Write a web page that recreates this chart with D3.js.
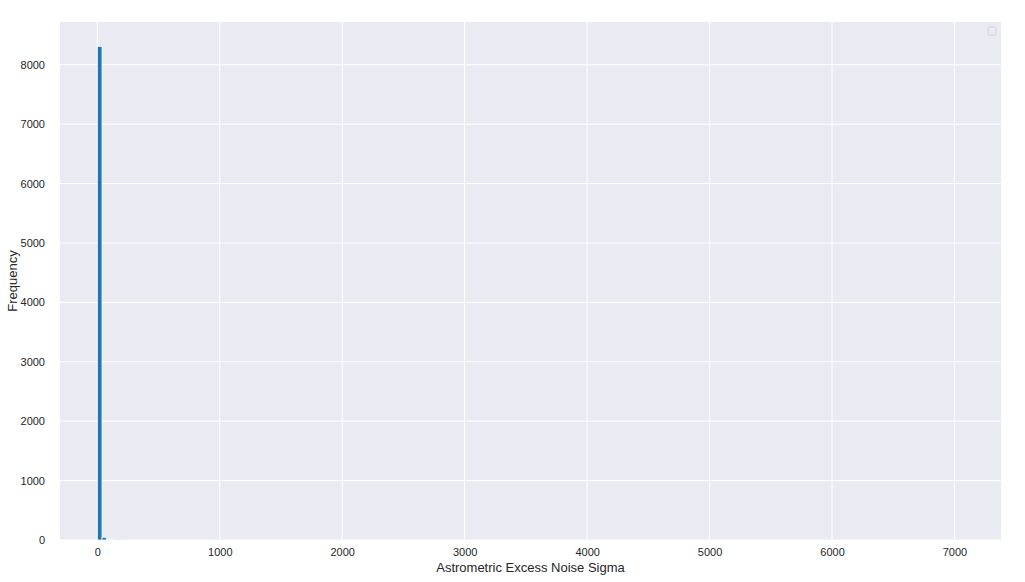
<!DOCTYPE html>
<html>
<head>
<meta charset="utf-8">
<script src="https://cdn.jsdelivr.net/npm/d3@7"></script>
<style>
  body { margin: 0; background: #fff; }
  svg { display: block; font-family: "Liberation Sans", Arial, sans-serif; }
</style>
</head>
<body>
<svg id="chart" width="1025" height="582"></svg>
<script>
// Histogram bins (left edge, right edge) and counts
const binEdges = [0, 38, 76, 114, 152, 190];
const binCounts = [8310, 45, 14, 8, 3];
const xTicks = [0, 1000, 2000, 3000, 4000, 5000, 6000, 7000];
const yTicks = [0, 1000, 2000, 3000, 4000, 5000, 6000, 7000, 8000];

const margin = { top: 22, right: 24, bottom: 42, left: 60 };
const width = 1025 - margin.left - margin.right;
const height = 582 - margin.top - margin.bottom;

const svg = d3.select("#chart");
const g = svg.append("g")
  .attr("transform", `translate(${margin.left}, ${margin.top})`);

// Scales
const xScale = d3.scaleLinear()
  .domain([-305, 7380])
  .range([0, width]);

const yScale = d3.scaleLinear()
  .domain([0, 8720])
  .range([height, 0]);

// Plot background
g.append("rect")
  .attr("width", width)
  .attr("height", height)
  .attr("fill", "#eaeaf2");

// Grid lines
g.append("g")
  .selectAll("line")
  .data(xTicks)
  .enter()
  .append("line")
  .attr("x1", d => xScale(d))
  .attr("x2", d => xScale(d))
  .attr("y1", 0)
  .attr("y2", height)
  .attr("stroke", "#fff")
  .attr("stroke-width", 1);

g.append("g")
  .selectAll("line")
  .data(yTicks)
  .enter()
  .append("line")
  .attr("x1", 0)
  .attr("x2", width)
  .attr("y1", d => yScale(d))
  .attr("y2", d => yScale(d))
  .attr("stroke", "#fff")
  .attr("stroke-width", 1);

// Bars
const bins = binCounts.map((c, i) => ({ x0: binEdges[i], x1: binEdges[i + 1], count: c }));
g.append("g")
  .selectAll("rect")
  .data(bins)
  .enter()
  .append("rect")
  .attr("x", d => xScale(d.x0))
  .attr("y", d => yScale(d.count))
  .attr("width", d => xScale(d.x1) - xScale(d.x0))
  .attr("height", d => height - yScale(d.count))
  .attr("fill", "#1f77b4")
  .attr("stroke", "#f4f6fa")
  .attr("stroke-width", 0.8);

// X axis
const xAxis = g.append("g")
  .attr("transform", `translate(0, ${height})`)
  .call(d3.axisBottom(xScale).tickValues(xTicks).tickSize(0).tickPadding(8).tickFormat(d3.format("d")));
xAxis.select(".domain").remove();
xAxis.selectAll("text").attr("font-size", "11px").attr("fill", "#262626");

// Y axis
const yAxis = g.append("g")
  .call(d3.axisLeft(yScale).tickValues(yTicks).tickSize(0).tickPadding(15).tickFormat(d3.format("d")));
yAxis.select(".domain").remove();
yAxis.selectAll("text").attr("font-size", "11px").attr("fill", "#262626");

// Axis labels
g.append("text")
  .attr("x", width / 2)
  .attr("y", height + 32)
  .attr("text-anchor", "middle")
  .attr("font-size", "13px")
  .attr("fill", "#262626")
  .text("Astrometric Excess Noise Sigma");

g.append("text")
  .attr("transform", "rotate(-90)")
  .attr("x", -height / 2)
  .attr("y", -43)
  .attr("text-anchor", "middle")
  .attr("font-size", "13px")
  .attr("fill", "#262626")
  .text("Frequency");

// Empty legend frame
g.append("rect")
  .attr("x", width - 13)
  .attr("y", 5)
  .attr("width", 8)
  .attr("height", 8)
  .attr("rx", 1.5)
  .attr("fill", "#eaeaf2")
  .attr("stroke", "#cccccc")
  .attr("stroke-width", 0.8);
</script>
</body>
</html>
